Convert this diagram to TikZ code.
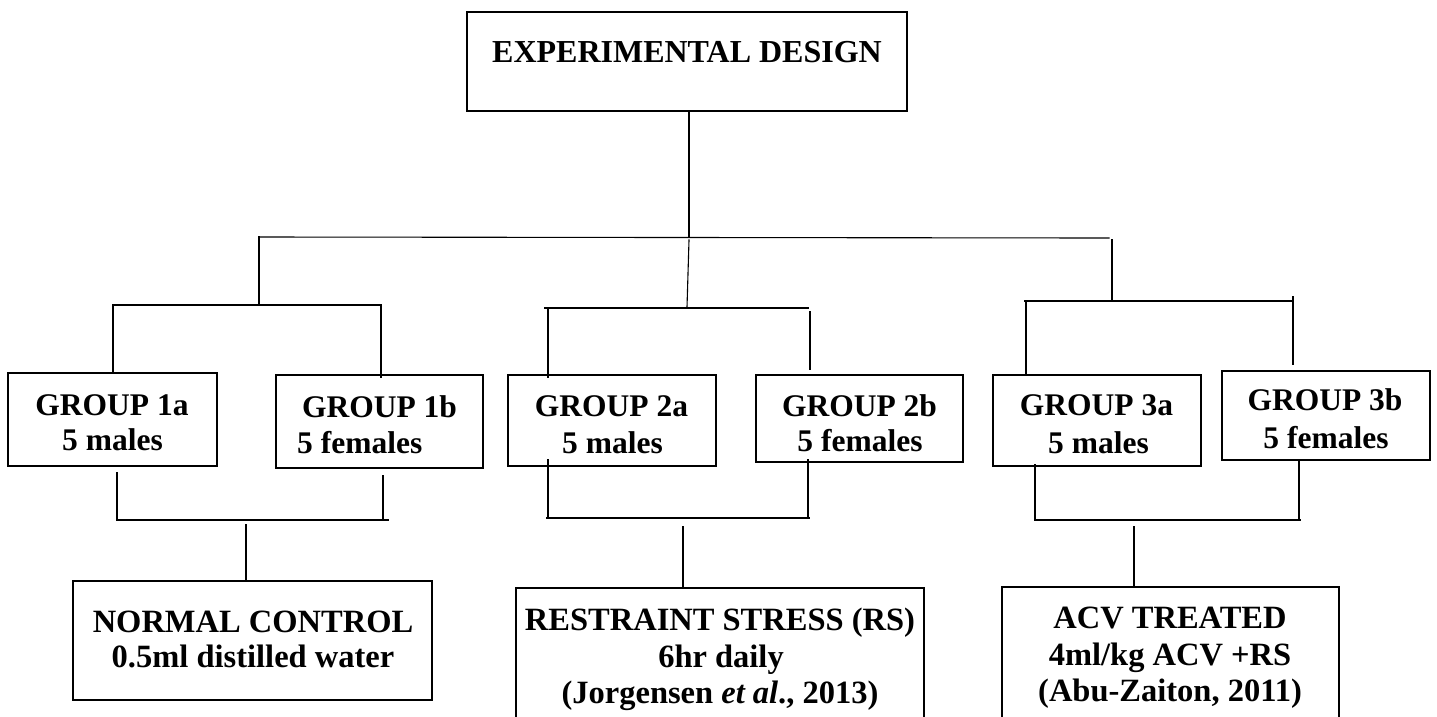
\documentclass[tikz,border=0pt]{standalone}
\usepackage{fontspec}
\setmainfont{Liberation Serif}
\begin{document}
\begin{tikzpicture}[x=1pt,y=-1pt,
  box/.style={draw, line width=2.6pt, inner sep=0pt},
  txt/.style={font=\bfseries\fontsize{31.5}{37}\selectfont, anchor=base, inner sep=0pt},
  big/.style={font=\bfseries\fontsize{32.5}{38}\selectfont, anchor=base, inner sep=0pt},
  conn/.style={line width=1.1pt, line cap=rect}]
\useasboundingbox (0,0) rectangle (1437,716);
\clip (0,0) rectangle (1437,716);
\fill[white] (0,0) rectangle (1437,716);

% boxes
\node[box, minimum width=440, minimum height=99] (top) at (687,61.5) {};
\node[box, minimum width=209, minimum height=93] (g1a) at (112.5,419.5) {};
\node[box, minimum width=207, minimum height=93] (g1b) at (379.5,421.5) {};
\node[box, minimum width=208, minimum height=91] (g2a) at (612,420.5) {};
\node[box, minimum width=207, minimum height=87] (g2b) at (859.5,418.5) {};
\node[box, minimum width=208, minimum height=91] (g3a) at (1097,420.5) {};
\node[box, minimum width=208, minimum height=89] (g3b) at (1326,415.5) {};
\node[box, minimum width=359, minimum height=119] (nc) at (252.5,640.5) {};
\node[box, minimum width=408, minimum height=172] (rs) at (720,674) {};
\node[box, minimum width=337, minimum height=173] (acv) at (1170.5,673.5) {};

% texts
\node[txt, font=\bfseries\fontsize{32}{38}\selectfont] (t0) at (687,62) {EXPERIMENTAL DESIGN};
\node[txt] (t1a1) at (112,415) {GROUP 1a};
\node[txt] (t1a2) at (112.5,450) {5 males};
\node[txt] (t1b1) at (379.5,417) {GROUP 1b};
\node[txt, anchor=base west] (t1b2) at (297,453) {5 females};
\node[txt] (t2a1) at (611.5,416) {GROUP 2a};
\node[txt] (t2a2) at (612.5,453) {5 males};
\node[txt] (t2b1) at (859.5,416) {GROUP 2b};
\node[txt] (t2b2) at (860,451) {5 females};
\node[txt] (t3a1) at (1096.5,415) {GROUP 3a};
\node[txt] (t3a2) at (1098.5,453) {5 males};
\node[txt] (t3b1) at (1325,410) {GROUP 3b};
\node[txt] (t3b2) at (1326,448) {5 females};
\node[big] (n1) at (253,632) {NORMAL CONTROL};
\node[big] (n2) at (253,667) {0.5ml distilled water};
\node[big] (r1) at (720,630) {RESTRAINT STRESS (RS)};
\node[big] (r2) at (721,667) {6hr daily};
\node[big] (r3) at (720,703) {(Jorgensen \textit{et al}., 2013)};
\node[big] (a1) at (1170,628) {ACV TREATED};
\node[big] (a2) at (1170,665) {4ml/kg ACV +RS};
\node[big] (a3) at (1170,701) {(Abu-Zaiton, 2011)};

% junction coordinates
\coordinate (hub) at (689,237);
\coordinate (hl) at (259,237);
\coordinate (hr) at (1109,238);
\coordinate (d1) at (259,304);
\coordinate (d2t) at (689,240);
\coordinate (d2) at (687,307);
\coordinate (d3t) at (1112,240);
\coordinate (d3) at (1112,300);

\coordinate (u1l) at (113,305);
\coordinate (u1r) at (381,305);
\coordinate (u2l) at (545,308);
\coordinate (u2r) at (808,308);
\coordinate (u2rr) at (810,312);
\coordinate (u3l) at (1025,301);
\coordinate (u3r) at (1292,301);
\coordinate (u3rr) at (1293,297);

\coordinate (l1l) at (117,520);
\coordinate (l1r) at (388,520);
\coordinate (l1d) at (246,525);
\coordinate (l2l) at (548,518);
\coordinate (l2r) at (809,518);
\coordinate (l2d) at (683,527);
\coordinate (l3l) at (1035,520);
\coordinate (l3r) at (1300,520);
\coordinate (l3d) at (1134,527);

% main tree
\draw[conn] (top.south -| hub) -- (hub);
\draw[conn] (hl) -- (hr);
\draw[conn] (hl) -- (d1);
\draw[conn] (d2t) -- (d2);
\draw[conn] (d3t) -- (d3);

% upper brackets
\draw[conn] (u1l) -- (u1r);
\draw[conn] (u1l) -- (u1l |- g1a.north);
\draw[conn] (u1r) -- ([yshift=-4pt]u1r |- g1b.north);
\draw[conn] (u2l) -- (u2r);
\draw[conn] ([xshift=3pt]u2l) -- ([xshift=3pt,yshift=-4pt]u2l |- g2a.north);
\draw[conn] (u2rr) -- ([yshift=4pt]u2rr |- g2b.north);
\draw[conn] (u3l) -- (u3r);
\draw[conn] ([xshift=1pt]u3l) -- ([xshift=1pt]u3l |- g3a.north);
\draw[conn] (u3rr) -- ([yshift=5pt]u3rr |- g3b.north);

% lower brackets
\draw[conn] ([yshift=-5pt]l1l |- g1a.south) -- (l1l);
\draw[conn] ([xshift=-5pt,yshift=-6pt]l1r |- g1b.south) -- ([xshift=-5pt]l1r);
\draw[conn] ([xshift=2pt]l1l) -- (l1r);
\draw[conn] (l1d) -- (l1d |- nc.north);

\draw[conn] ([yshift=8pt]l2l |- g2a.south) -- (l2l);
\draw[conn] ([xshift=-1pt,yshift=4pt]l2r |- g2b.south) -- ([xshift=-1pt]l2r);
\draw[conn] ([xshift=-1pt]l2l) -- (l2r);
\draw[conn] (l2d) -- (l2d |- rs.north);

\draw[conn] ([yshift=3pt]l3l |- g3a.south) -- (l3l);
\draw[conn] ([xshift=-1pt]l3r |- g3b.south) -- ([xshift=-1pt]l3r);
\draw[conn] (l3l) -- (l3r);
\draw[conn] (l3d) -- (l3d |- acv.north);
\end{tikzpicture}
\end{document}
